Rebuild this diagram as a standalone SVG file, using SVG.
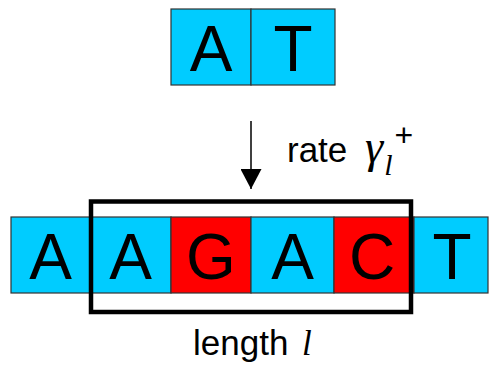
<svg xmlns="http://www.w3.org/2000/svg" width="489" height="366" viewBox="0 0 489 366">
  <style>
    .base rect { stroke: #333; stroke-width: 1.2; }
    .blue { fill: #00CCFF; }
    .red { fill: #FF0000; }
    .letter { font-family: "Liberation Sans", Arial, sans-serif; font-size: 64px; fill: #000; text-anchor: middle; }
    .label { font-family: "Liberation Sans", Arial, sans-serif; font-size: 35px; fill: #000; }
    .sym { font-family: "Liberation Serif", "Times New Roman", serif; fill: #000; }
  </style>
  <defs>
    <marker id="head" markerWidth="20" markerHeight="21" refX="20" refY="10.5" orient="auto" markerUnits="userSpaceOnUse" viewBox="0 0 20 21">
      <path d="M0,0 L20,10.5 L0,21 Z" fill="#000"/>
    </marker>
  </defs>

  <!-- inserted pair -->
  <g id="insert-A" class="base">
    <rect class="blue" x="171" y="9" width="80" height="76"/>
    <text class="letter" x="211" y="70.5">A</text>
  </g>
  <g id="insert-T" class="base">
    <rect class="blue" x="251" y="9" width="84" height="76"/>
    <text class="letter" x="293" y="70.5">T</text>
  </g>

  <!-- sequence -->
  <g id="seq-1" class="base">
    <rect class="blue" x="11" y="217" width="79" height="76"/>
    <text class="letter" x="50.5" y="279">A</text>
  </g>
  <g id="seq-2" class="base">
    <rect class="blue" x="90" y="217" width="81" height="76"/>
    <text class="letter" x="130.5" y="279">A</text>
  </g>
  <g id="seq-3" class="base">
    <rect class="red" x="171" y="217" width="80" height="76"/>
    <text class="letter" x="211" y="279">G</text>
  </g>
  <g id="seq-4" class="base">
    <rect class="blue" x="251" y="217" width="83" height="76"/>
    <text class="letter" x="292.5" y="279">A</text>
  </g>
  <g id="seq-5" class="base">
    <rect class="red" x="334" y="217" width="80" height="76"/>
    <text class="letter" x="372" y="279">C</text>
  </g>
  <g id="seq-6" class="base">
    <rect class="blue" x="414" y="217" width="74" height="76"/>
    <text class="letter" x="452" y="279">T</text>
  </g>

  <!-- window of length l -->
  <g id="window">
    <rect x="91" y="201.5" width="320" height="110.5" fill="none" stroke="#000" stroke-width="4.5"/>
  </g>

  <g id="connectors">
    <line x1="251" y1="121" x2="251" y2="189" stroke="#000" stroke-width="1.5" marker-end="url(#head)"/>
  </g>

  <g id="labels">
    <text class="label" x="287" y="162">rate <tspan class="sym" font-size="46" font-style="italic" dx="8">γ</tspan><tspan class="sym" font-style="italic" font-size="30" dy="13" dx="1">l</tspan><tspan font-size="32" dy="-29" dx="2">+</tspan></text>
    <text class="label" x="193" y="355">length <tspan class="sym" font-style="italic" dx="4">l</tspan></text>
  </g>
</svg>
